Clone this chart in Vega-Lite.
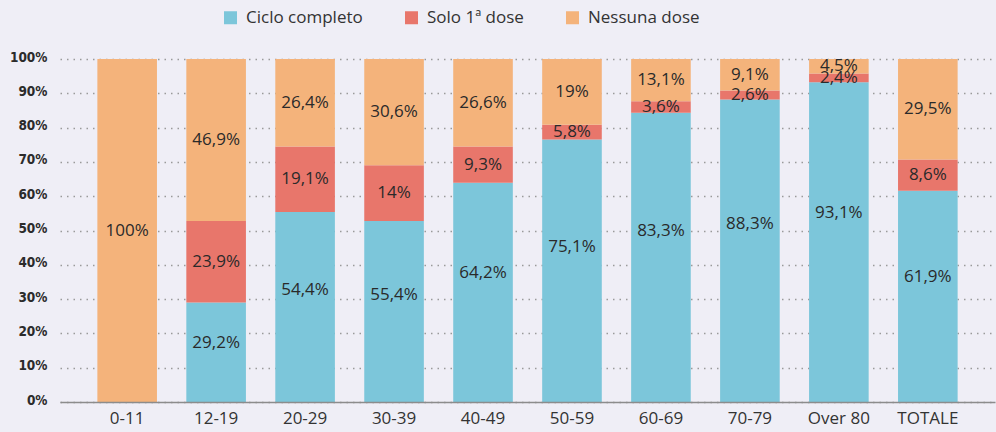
{
  "$schema": "https://vega.github.io/schema/vega-lite/v6.json",
  "autosize": "none",
  "width": 935,
  "height": 343,
  "padding": {"left": 60, "top": 59, "right": 1, "bottom": 30},
  "background": "#efeef6",
  "config": {
    "view": {"stroke": null},
    "axisY": {
      "title": null,
      "values": [0, 10, 20, 30, 40, 50, 60, 70, 80, 90, 100],
      "labelExpr": "datum.value + '%'",
      "labelOverlap": false,
      "domain": false,
      "ticks": false,
      "labelPadding": 13,
      "labelFont": "DejaVu Sans Condensed",
      "labelFontWeight": "bold",
      "labelFontSize": 13.5,
      "labelColor": "#2b2b2b",
      "labelOffset": -2,
      "gridColor": "#9a9a9a",
      "gridDash": [1.5, 5],
      "gridWidth": 1.3,
      "zindex": 1
    }
  },
  "data": {
    "values": [
      {"group": "0-11", "series": "Ciclo completo", "rank": 1, "value": 0, "label": ""},
      {"group": "0-11", "series": "Solo 1ª dose", "rank": 2, "value": 0, "label": ""},
      {"group": "0-11", "series": "Nessuna dose", "rank": 3, "value": 100, "label": "100%"},
      {"group": "12-19", "series": "Ciclo completo", "rank": 1, "value": 29.0, "label": "29,2%"},
      {"group": "12-19", "series": "Solo 1ª dose", "rank": 2, "value": 23.8, "label": "23,9%"},
      {"group": "12-19", "series": "Nessuna dose", "rank": 3, "value": 47.2, "label": "46,9%"},
      {"group": "20-29", "series": "Ciclo completo", "rank": 1, "value": 55.4, "label": "54,4%"},
      {"group": "20-29", "series": "Solo 1ª dose", "rank": 2, "value": 19.1, "label": "19,1%"},
      {"group": "20-29", "series": "Nessuna dose", "rank": 3, "value": 25.5, "label": "26,4%"},
      {"group": "30-39", "series": "Ciclo completo", "rank": 1, "value": 52.8, "label": "55,4%"},
      {"group": "30-39", "series": "Solo 1ª dose", "rank": 2, "value": 16.2, "label": "14%"},
      {"group": "30-39", "series": "Nessuna dose", "rank": 3, "value": 31.0, "label": "30,6%"},
      {"group": "40-49", "series": "Ciclo completo", "rank": 1, "value": 63.9, "label": "64,2%"},
      {"group": "40-49", "series": "Solo 1ª dose", "rank": 2, "value": 10.6, "label": "9,3%"},
      {"group": "40-49", "series": "Nessuna dose", "rank": 3, "value": 25.5, "label": "26,6%"},
      {"group": "50-59", "series": "Ciclo completo", "rank": 1, "value": 76.5, "label": "75,1%"},
      {"group": "50-59", "series": "Solo 1ª dose", "rank": 2, "value": 4.3, "label": "5,8%"},
      {"group": "50-59", "series": "Nessuna dose", "rank": 3, "value": 19.2, "label": "19%"},
      {"group": "60-69", "series": "Ciclo completo", "rank": 1, "value": 84.3, "label": "83,3%"},
      {"group": "60-69", "series": "Solo 1ª dose", "rank": 2, "value": 3.4, "label": "3,6%"},
      {"group": "60-69", "series": "Nessuna dose", "rank": 3, "value": 12.3, "label": "13,1%"},
      {"group": "70-79", "series": "Ciclo completo", "rank": 1, "value": 88.2, "label": "88,3%"},
      {"group": "70-79", "series": "Solo 1ª dose", "rank": 2, "value": 2.6, "label": "2,6%"},
      {"group": "70-79", "series": "Nessuna dose", "rank": 3, "value": 9.2, "label": "9,1%"},
      {"group": "Over 80", "series": "Ciclo completo", "rank": 1, "value": 93.2, "label": "93,1%"},
      {"group": "Over 80", "series": "Solo 1ª dose", "rank": 2, "value": 2.6, "label": "2,4%"},
      {"group": "Over 80", "series": "Nessuna dose", "rank": 3, "value": 4.2, "label": "4,5%"},
      {"group": "TOTALE", "series": "Ciclo completo", "rank": 1, "value": 61.6, "label": "61,9%"},
      {"group": "TOTALE", "series": "Solo 1ª dose", "rank": 2, "value": 9.1, "label": "8,6%"},
      {"group": "TOTALE", "series": "Nessuna dose", "rank": 3, "value": 29.3, "label": "29,5%"}
    ]
  },
  "encoding": {
    "x": {
      "field": "group",
      "type": "nominal",
      "sort": null,
      "scale": {"paddingInner": 0.33, "paddingOuter": 0.42},
      "axis": {
        "title": null,
        "labelAngle": 0,
        "ticks": false,
        "domainColor": "#8c8c8c",
        "domainWidth": 1.5,
        "labelFont": "Open Sans",
        "labelFontSize": 17,
        "labelColor": "#333333",
        "labelPadding": 8,
        "zindex": 1
      }
    }
  },
  "layer": [
    {
      "mark": {"type": "bar"},
      "encoding": {
        "y": {
          "field": "value",
          "type": "quantitative",
          "stack": "zero",
          "title": null,
          "scale": {"domain": [0, 100], "nice": false}
        },
        "order": {"field": "rank", "type": "quantitative"},
        "color": {
          "field": "series",
          "type": "nominal",
          "scale": {
            "domain": ["Ciclo completo", "Solo 1ª dose", "Nessuna dose"],
            "range": ["#7cc6da", "#e8766b", "#f4b37b"]
          },
          "legend": {
            "title": null,
            "orient": "none",
            "direction": "horizontal",
            "legendX": 162,
            "legendY": -50,
            "padding": 0,
            "symbolType": "square",
            "symbolSize": 169,
            "symbolStrokeWidth": 0,
            "symbolOpacity": 1,
            "labelFont": "Open Sans",
            "labelFontSize": 17,
            "labelColor": "#333333",
            "labelOffset": 7,
            "columnPadding": 40
          }
        }
      }
    },
    {
      "mark": {"type": "text", "font": "Open Sans", "fontSize": 17, "color": "#2a2a2a", "baseline": "middle"},
      "encoding": {
        "y": {"field": "value", "type": "quantitative", "stack": "zero", "bandPosition": 0.5, "title": null},
        "order": {"field": "rank", "type": "quantitative"},
        "text": {
          "condition": {"test": "datum.series !== 'Ciclo completo'", "field": "label"},
          "value": ""
        }
      }
    },
    {
      "transform": [{"filter": "datum.series === 'Ciclo completo'"}],
      "mark": {"type": "text", "font": "Open Sans", "fontSize": 17, "color": "#2a2a2a", "baseline": "middle"},
      "encoding": {
        "y": {"field": "value", "type": "quantitative", "stack": "zero", "bandPosition": 0.59, "title": null},
        "order": {"field": "rank", "type": "quantitative"},
        "text": {"field": "label"}
      }
    }
  ]
}
